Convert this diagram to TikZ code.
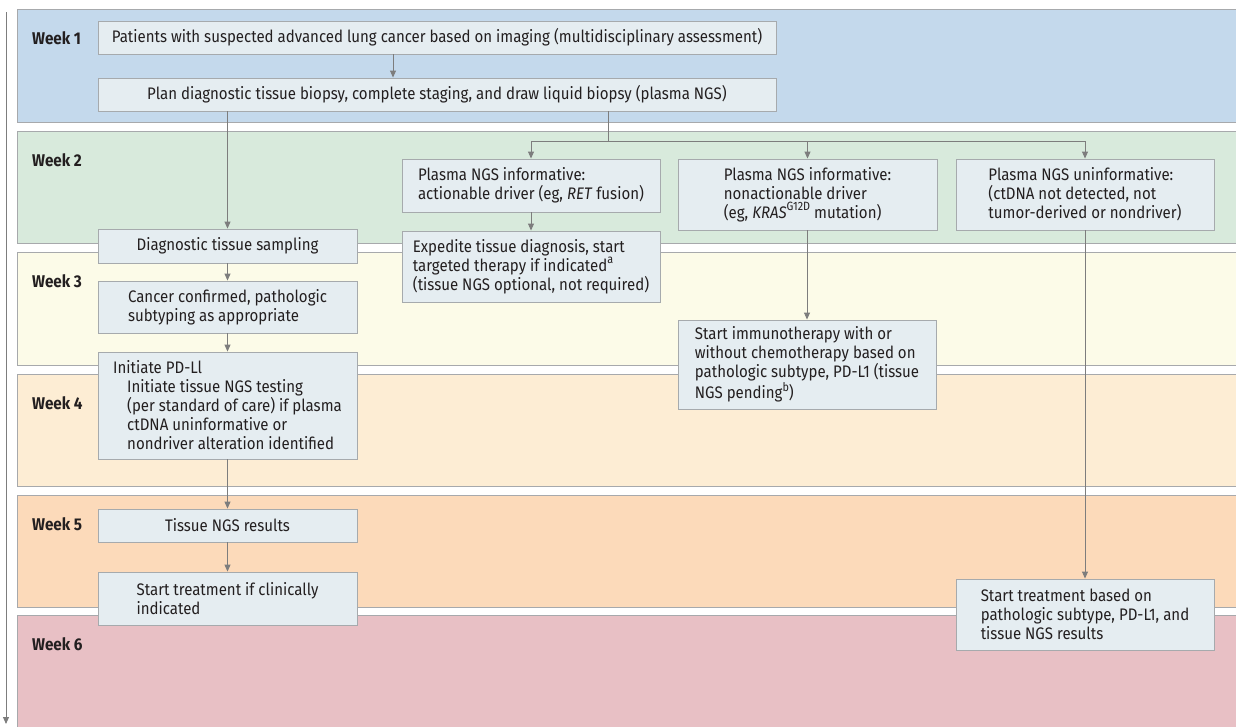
\documentclass[tikz,border=0pt]{standalone}
\usepackage{fontspec}
\setmainfont{Fira Sans}[FakeStretch=0.9]
\usepackage{xcolor}
\usetikzlibrary{arrows.meta,positioning,calc}
\definecolor{wkone}{HTML}{C4D9EC}
\definecolor{wktwo}{HTML}{D8EADC}
\definecolor{wkthree}{HTML}{FCFBE8}
\definecolor{wkfour}{HTML}{FDEDD4}
\definecolor{wkfive}{HTML}{FCDABA}
\definecolor{wksix}{HTML}{E8C0C5}
\definecolor{boxfill}{HTML}{E5EDF1}
\definecolor{boxline}{HTML}{A6AAAD}
\definecolor{bandline}{HTML}{A7A9AC}
\definecolor{linegray}{HTML}{7D7D7D}
\definecolor{inkdark}{HTML}{231F20}
\newcommand\supmark[1]{\raisebox{0.85ex}{\fontsize{12}{12}\selectfont #1}}

\begin{document}
\begin{tikzpicture}[x=1pt,y=-1pt,font=\fontsize{16.7}{19}\selectfont,text=inkdark,
  stepbox/.style={draw=boxline,fill=boxfill,line width=0.9pt,align=left,inner sep=0pt},
  band/.style={draw=bandline,line width=1pt},
  link/.style={draw=linegray,line width=0.9pt},
  arr/.style={link,-{Triangle[length=7pt,width=6pt]}},
  wk/.style={anchor=west,inner sep=0pt,font=\fontsize{17}{19}\selectfont\bfseries}]
\useasboundingbox (0,0) rectangle (1236,726);
% week bands, top to bottom
\foreach \ya/\yb/\col/\lab in {9/122/wkone/1,131/243/wktwo/2,252/365/wkthree/3,374/486/wkfour/4,495/607/wkfive/5,615/740/wksix/6}{
  \draw[band,fill=\col] (1245,\ya) -- (17,\ya) -- (17,\yb) -- (1245,\yb);
  \node[wk] (week\lab) at (32,{\ya+29}) {Week \lab};
}
\coordinate (tltop) at (6,12);
\coordinate (tlend) at (6,724);
\draw[arr] (tltop) -- (tlend);

% left column: tissue pathway
\node[stepbox,minimum width=678pt,minimum height=33pt] (pat) at (437,37.5) {Patients with suspected advanced lung cancer based on imaging (multidisciplinary assessment)};
\node[stepbox,minimum width=678pt,minimum height=33pt] (plan) at (437,94.5) {Plan diagnostic tissue biopsy, complete staging, and draw liquid biopsy (plasma NGS)};
\node[stepbox,minimum width=259pt,minimum height=34pt] (diag) at (227.5,246) {Diagnostic tissue sampling};
\node[stepbox,minimum width=259pt,minimum height=52pt] (conf) at (227.5,307) {Cancer confirmed, pathologic\\subtyping as appropriate};
\node[stepbox,minimum width=259pt,minimum height=107pt] (pdl) at (227.5,405.5) {Initiate PD-Ll\\\hspace*{14pt}Initiate tissue NGS testing\\\hspace*{14pt}(per standard of care) if plasma\\\hspace*{14pt}ctDNA uninformative or\\\hspace*{14pt}nondriver alteration identified};
\node[stepbox,minimum width=259pt,minimum height=33pt] (tres) at (227.5,525.5) {Tissue NGS results};
\node[stepbox,minimum width=259pt,minimum height=53pt] (stx) at (227.5,598.5) {Start treatment if clinically\\indicated};

% plasma NGS branches
\node[stepbox,minimum width=258pt,minimum height=53pt] (ret) at (531,185.5) {Plasma NGS informative:\\actionable driver (eg, \textit{RET} fusion)};
\node[stepbox,minimum width=258pt,minimum height=71pt] (exped) at (531,266.5) {Expedite tissue diagnosis, start\\targeted therapy if indicated\supmark{a}\\(tissue NGS optional, not required)};
\node[stepbox,minimum width=259pt,minimum height=71pt] (kras) at (807.5,194.5) {Plasma NGS informative:\\nonactionable driver\\(eg, \textit{KRAS}\supmark{G12D} mutation)};
\node[stepbox,minimum width=258pt,minimum height=89pt] (immu) at (807,364.5) {Start immunotherapy with or\\without chemotherapy based on\\pathologic subtype, PD-L1 (tissue\\NGS pending\supmark{b})};
\node[stepbox,minimum width=258pt,minimum height=71pt] (unin) at (1085,194.5) {Plasma NGS uninformative:\\(ctDNA not detected, not\\tumor-derived or nondriver)};
\node[stepbox,minimum width=258pt,minimum height=71pt] (stb) at (1085,614.5) {Start treatment based on\\pathologic subtype, PD-L1, and\\tissue NGS results};

\draw[arr] ([xshift=-44pt]pat.south) -- ([xshift=-44pt]plan.north);
\draw[arr] (plan.south -| diag.north) -- (diag.north);
\draw[arr] (diag) -- (conf);
\draw[arr] (conf) -- (pdl);
\draw[arr] (pdl) -- (tres);
\draw[arr] (tres) -- (stx);
\coordinate (split) at (608,141);
\draw[link] (plan.south -| split) -- (split);
\draw[arr] (split) -| (ret.north);
\draw[arr] (split) -| (kras.north);
\draw[arr] (split) -| (unin.north);
\draw[arr] (ret) -- (exped);
\draw[arr] (kras.south -| immu.north) -- (immu.north);
\draw[arr] (unin) -- (stb);
\end{tikzpicture}
\end{document}
